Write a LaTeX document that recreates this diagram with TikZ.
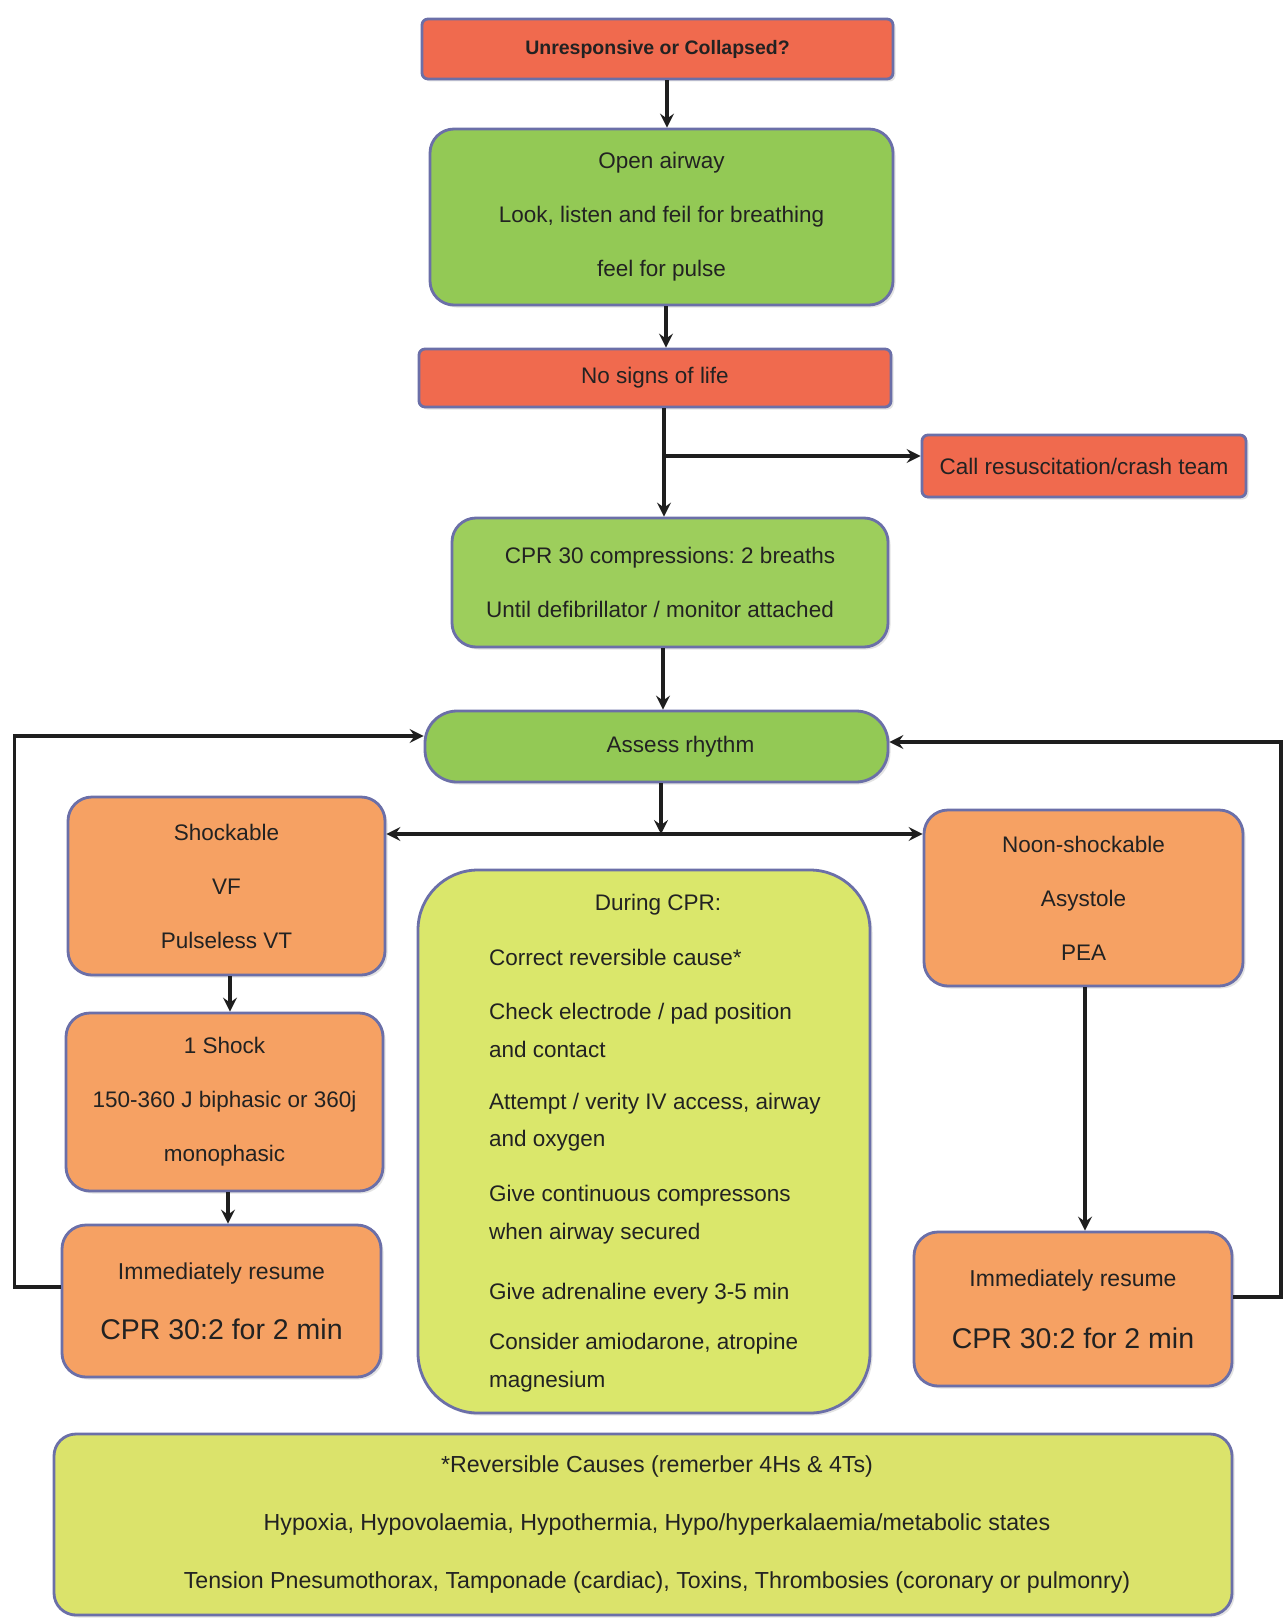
\documentclass[tikz,border=0pt]{standalone}
\usepackage{fontspec}
\setmainfont{Liberation Sans}
\usetikzlibrary{arrows.meta,shadows,calc}
\frenchspacing

\definecolor{edgeblue}{HTML}{6B6FA8}
\definecolor{redfill}{HTML}{F06A4E}
\definecolor{greenfill}{HTML}{93C955}
\definecolor{lightgreen}{HTML}{9DCE5C}
\definecolor{orangefill}{HTML}{F6A163}
\definecolor{yellowfill}{HTML}{DAE76B}
\definecolor{inkcol}{HTML}{222222}
\definecolor{linecol}{HTML}{1E1E1E}

\begin{document}
\begin{tikzpicture}[x=1pt,y=-1pt,
  basebox/.style={draw=edgeblue, line width=2.8pt, inner sep=0pt, align=center,
    text=inkcol, font=\fontsize{22.5}{54}\selectfont,
    drop shadow={shadow xshift=2.5pt, shadow yshift=-2.5pt, opacity=0.22}},
  redbox/.style={basebox, fill=redfill, rounded corners=6pt},
  greenbox/.style={basebox, fill=greenfill, rounded corners=24pt},
  orangebox/.style={basebox, fill=orangefill, rounded corners=24pt},
  yellowbox/.style={basebox, fill=yellowfill},
  arr/.style={draw=linecol, line width=3.4pt, -{Stealth[length=14pt,width=14pt,inset=5pt]}},
  itemtext/.style={anchor=base west, inner sep=0pt, text=inkcol, font=\fontsize{22.5}{27}\selectfont},
]
\useasboundingbox (0,0) rectangle (1283,1624);
\fill[white] (0,0) rectangle (1283,1624);

% main column
\node[redbox, minimum width=471pt, minimum height=60pt, font=\fontsize{19.5}{24}\selectfont\bfseries]
  (start) at (657.5,49) {Unresponsive or Collapsed?};
\node[greenbox, minimum width=463pt, minimum height=176pt]
  (airway) at (661.5,217) {Open airway\\Look, listen and feil for breathing\\feel for pulse};
\node[redbox, minimum width=472pt, minimum height=58pt]
  (nolife) at (655,378) {No signs of life};
\node[redbox, minimum width=324pt, minimum height=62pt]
  (call) at (1084,466) {Call resuscitation/crash team};
\node[greenbox, fill=lightgreen, minimum width=436pt, minimum height=129pt]
  (cpr) at (670,582.5) {CPR 30 compressions: 2 breaths\\Until defibrillator / monitor attached\hspace*{20pt}};
\node[greenbox, rounded corners=32pt, minimum width=463pt, minimum height=71pt]
  (assess) at (656.5,746.5) {\hspace*{48pt}Assess rhythm};

% shockable side
\node[orangebox, minimum width=317pt, minimum height=178pt]
  (shock) at (226.5,886) {Shockable\\VF\\Pulseless VT};
\node[orangebox, minimum width=317pt, minimum height=178pt]
  (oneshock) at (224.5,1102) {1 Shock\\150-360 J biphasic or 360j\\monophasic};
\node[orangebox, minimum width=319pt, minimum height=152pt]
  (resumeL) at (221.5,1301) {\fontsize{23}{30}\selectfont Immediately resume\\[6pt]{\fontsize{28.5}{30}\selectfont CPR 30:2 for 2 min}};

% non-shockable side
\node[orangebox, minimum width=319pt, minimum height=176pt]
  (nonshock) at (1083.5,898) {Noon-shockable\\Asystole\\PEA};
\node[orangebox, minimum width=318pt, minimum height=154pt]
  (resumeR) at (1073,1309) {\fontsize{23}{30}\selectfont Immediately resume\\[8pt]{\fontsize{28.5}{30}\selectfont CPR 30:2 for 2 min}};

% during CPR panel
\node[yellowbox, rounded corners=60pt, minimum width=452pt, minimum height=543pt]
  (during) at (644,1141.5) {};
\node[itemtext, anchor=base] (dtitle) at (658,910) {During CPR:};
\node[itemtext] (d1) at (489,965) {Correct reversible cause*};
\node[itemtext] (d2) at (489,1019) {Check electrode / pad position};
\node[itemtext] (d3) at (489,1057) {and contact};
\node[itemtext] (d4) at (489,1109) {Attempt / verity IV access, airway};
\node[itemtext] (d5) at (489,1146) {and oxygen};
\node[itemtext] (d6) at (489,1201) {Give continuous compressons};
\node[itemtext] (d7) at (489,1239) {when airway secured};
\node[itemtext] (d8) at (489,1299) {Give adrenaline every 3-5 min};
\node[itemtext] (d9) at (489,1349) {Consider amiodarone, atropine};
\node[itemtext] (d10) at (489,1387) {magnesium};

% reversible causes panel
\node[yellowbox, fill=yellowfill!95!orangefill, rounded corners=22pt, minimum width=1178pt, minimum height=181pt,
  font=\fontsize{23.2}{58}\selectfont]
  (causes) at (643,1524.5) {\hspace*{28pt}*Reversible Causes (remerber 4Hs \& 4Ts)\\
  \hspace*{28pt}Hypoxia, Hypovolaemia, Hypothermia, Hypo/hyperkalaemia/metabolic states\\
  \hspace*{28pt}Tension Pnesumothorax, Tamponade (cardiac), Toxins, Thrombosies (coronary or pulmonry)};

% connectors
\coordinate (c1) at (667,0);
\coordinate (c2) at (666,0);
\coordinate (c3) at (664,0);
\coordinate (c4) at (663,0);
\coordinate (c5) at (661,0);
\draw[arr] (start.south -| c1) -- (airway.north -| c1);
\draw[arr] (airway.south -| c2) -- (nolife.north -| c2);
\draw[arr] (nolife.south -| c3) -- (cpr.north -| c3);
\coordinate (branch) at (664,456);
\draw[arr] (branch) -- (call.west |- branch);
\draw[arr] (cpr.south -| c4) -- (assess.north -| c4);
\coordinate (split) at (661,834);
\draw[arr] (assess.south -| c5) -- (split);
\draw[draw=linecol, line width=3.4pt, {Stealth[length=14pt,width=14pt,inset=5pt]}-{Stealth[length=14pt,width=14pt,inset=5pt]}]
  (shock.east |- split) -- (nonshock.west |- split);

\coordinate (s1) at (230,0);
\coordinate (s2) at (228,0);
\draw[arr] (shock.south -| s1) -- (oneshock.north -| s1);
\draw[arr] (oneshock.south -| s2) -- (resumeL.north -| s2);

\coordinate (n1) at (1085,0);
\draw[arr] (nonshock.south -| n1) -- (resumeR.north -| n1);

% return loops to rhythm check
\coordinate (loopL1) at (14.5,1287);
\coordinate (loopL2) at (14.5,736);
\draw[arr] (resumeL.west |- loopL1) -- (loopL1) -- (loopL2) -- (assess.west |- loopL2);
\coordinate (loopR1) at (1281,1297);
\coordinate (loopR2) at (1281,742);
\draw[arr] (resumeR.east |- loopR1) -- (loopR1) -- (loopR2) -- (assess.east |- loopR2);
\end{tikzpicture}
\end{document}
